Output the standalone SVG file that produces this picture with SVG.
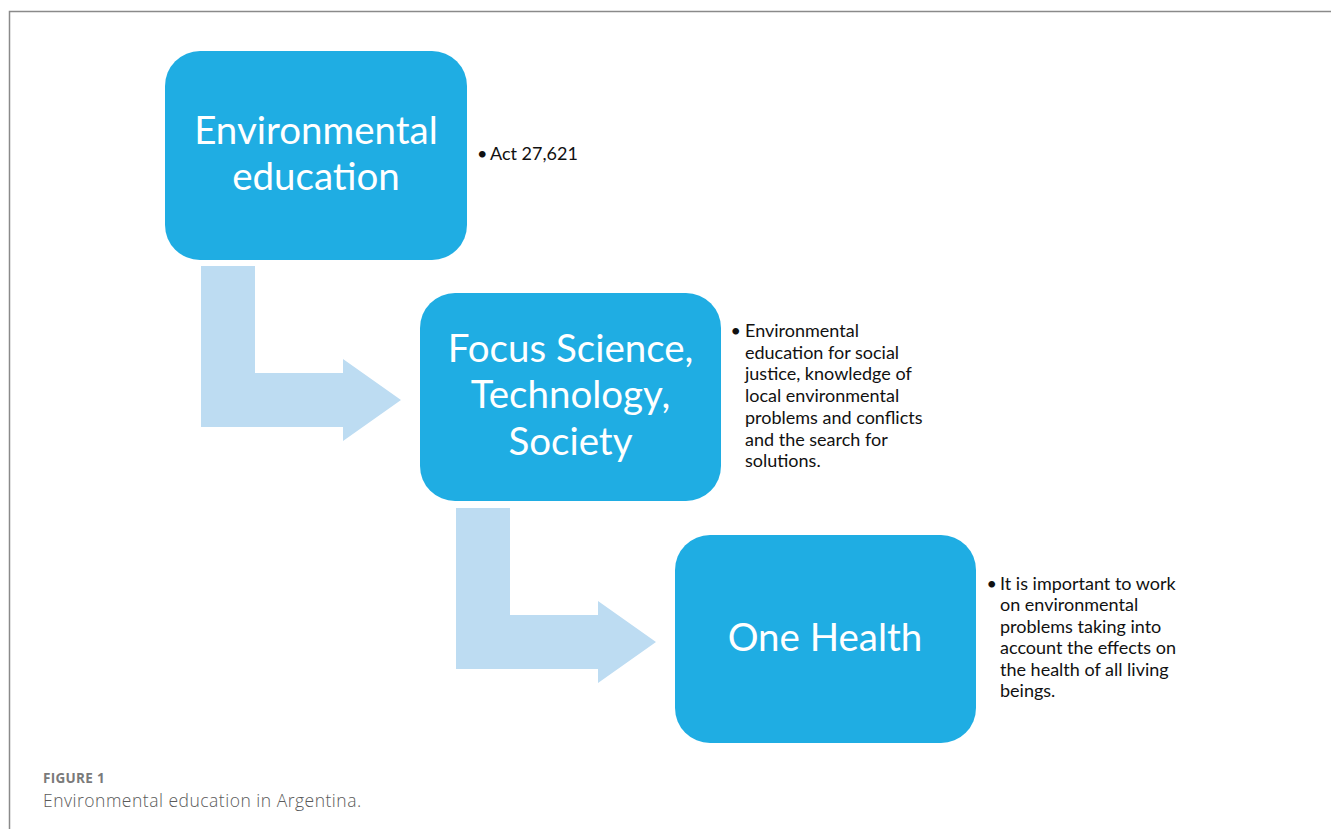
<svg xmlns="http://www.w3.org/2000/svg" width="1331" height="829" viewBox="0 0 1331 829">
  <style>
    .frame { stroke: #8a8a8a; stroke-width: 1.5; fill: none; }
    .box { fill: #1FADE3; }
    .flow { fill: #BDDCF2; }
    .head { font-family: Lato, "Open Sans", sans-serif; font-size: 38.5px; fill: #ffffff; text-anchor: middle; }
    .note { font-family: Lato, "Open Sans", sans-serif; font-size: 18px; fill: #111111; }
    .caption-label { font-family: "Open Sans", sans-serif; font-size: 13.5px; font-weight: 700; letter-spacing: 0.3px; fill: #7a7a7a; }
    .caption { font-family: "Open Sans", sans-serif; font-size: 17.5px; font-weight: 300; letter-spacing: 0.5px; fill: #5a5a5a; }
  </style>

  <rect width="1331" height="829" fill="#ffffff"/>
  <!-- figure frame -->
  <path class="frame" d="M9.5,829 V11.5 H1331"/>

  <!-- bent flow arrows between stages -->
  <g id="connectors">
    <polygon class="flow" points="201,266 255,266 255,373 343,373 343,359 401,400 343,441 343,427 201,427"/>
    <polygon class="flow" points="456,508 510,508 510,615 598,615 598,601 656,642 598,683 598,669 456,669"/>
  </g>

  <g id="node-environmental-education">
    <rect class="box" x="165" y="51" width="302" height="209" rx="35" ry="35"/>
    <text class="head" x="316" y="144">Environmental</text>
    <text class="head" x="316" y="189.5">education</text>
    <text class="note" x="477" y="160">•</text>
    <text class="note" x="490" y="160">Act 27,621</text>
  </g>

  <g id="node-focus-sts">
    <rect class="box" x="420" y="293" width="301" height="208" rx="35" ry="35"/>
    <text class="head" x="570.5" y="362">Focus Science,</text>
    <text class="head" x="570.5" y="408">Technology,</text>
    <text class="head" x="570.5" y="455">Society</text>
    <text class="note" x="730.5" y="337">•</text>
    <text class="note" x="745">
      <tspan x="745" y="337">Environmental</tspan>
      <tspan x="745" y="358.7">education for social</tspan>
      <tspan x="745" y="380.4">justice, knowledge of</tspan>
      <tspan x="745" y="402.1">local environmental</tspan>
      <tspan x="745" y="423.8">problems and conflicts</tspan>
      <tspan x="745" y="445.5">and the search for</tspan>
      <tspan x="745" y="467.2">solutions.</tspan>
    </text>
  </g>

  <g id="node-one-health">
    <rect class="box" x="675" y="535" width="301" height="208" rx="35" ry="35"/>
    <text class="head" x="825" y="651">One Health</text>
    <text class="note" x="986.5" y="589.5">•</text>
    <text class="note" x="1000">
      <tspan x="1000" y="589.5">It is important to work</tspan>
      <tspan x="1000" y="611">on environmental</tspan>
      <tspan x="1000" y="632.5">problems taking into</tspan>
      <tspan x="1000" y="654">account the effects on</tspan>
      <tspan x="1000" y="675.5">the health of all living</tspan>
      <tspan x="1000" y="697">beings.</tspan>
    </text>
  </g>

  <g id="caption">
    <text class="caption-label" x="43" y="782.5">FIGURE 1</text>
    <text class="caption" x="43" y="807">Environmental education in Argentina.</text>
  </g>
</svg>
